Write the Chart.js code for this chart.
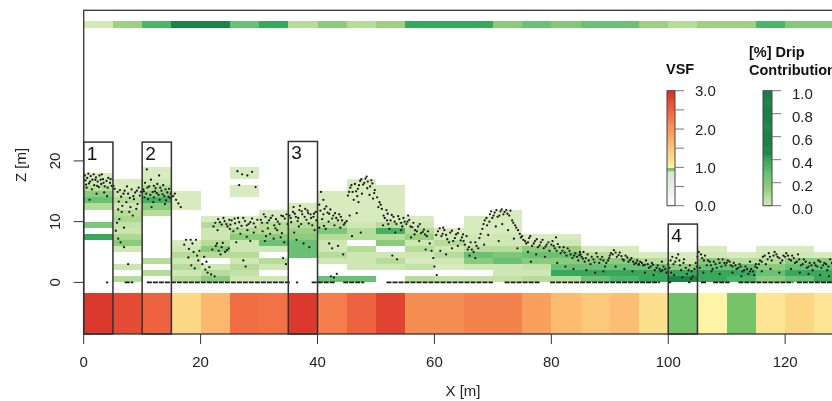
<!DOCTYPE html>
<html>
<head>
<meta charset="utf-8">
<script src="https://cdn.jsdelivr.net/npm/chart.js@4/dist/chart.umd.min.js"></script>
<style>
  html, body { margin: 0; padding: 0; background: #fff; overflow: hidden; }
  #wrap { width: 850px; height: 401px; }
</style>
</head>
<body>
<div id="wrap"><canvas id="chart" width="850" height="401"></canvas></div>
<script>
// 5 m bins along the transect
const binStarts = [0, 5, 10, 15, 20, 25, 30, 35, 40, 45, 50, 55, 60, 65, 70, 75, 80, 85, 90, 95, 100, 105, 110, 115, 120, 125];
const binWidth = 5;
const layerHeight = 1;

// VSF per bin (bottom strip)
const vsfValues = [2.9, 2.7, 2.5, 1.3, 1.65, 2.4, 2.35, 2.9, 2.25, 2.5, 2.8, 2.08, 2.08, 2.2, 2.2, 1.9, 1.62, 1.5, 1.6, 1.2, 0.96, 1.02, 0.98, 1.15, 1.33, 1.15];
// drip contribution per bin (top strip)
const dripShares = [0.01, 0.14, 0.33, 0.7, 0.7, 0.27, 0.4, 0.08, 0.18, 0.08, 0.14, 0.4, 0.4, 0.4, 0.18, 0.27, 0.2, 0.27, 0.27, 0.14, 0.08, 0.14, 0.14, 0.33, 0.2, 0.2];

// drip contribution per 1 m layer, from z = 0 upward (null = no voxel)
const voxelDrip = [
  [null, null, null, null, null, null, null, 0.4, null, 0.22, null, null, 0.08, 0.27, 0.18, 0.08, 0.02, 0],
  [0.08, null, 0.03, null, null, 0.02, 0.18, 0.1, 0.03, 0.05, 0.1, 0.08, 0.02, 0.08, 0.03, 0, 0],
  [null, 0.08, null, 0.08, null, null, null, null, null, null, null, 0.08, 0.18, 0.36, 0.18, 0.08, 0.02, 0, 0],
  [0.08, 0.02, 0.08, 0.02, 0.08, 0.02, 0, null, null, null, null, null, 0, 0, 0],
  [0.18, 0.08, 0.02, null, 0.08, 0.18, 0.08, 0.02, 0.02, 0.08, 0],
  [0.02, 0.05, 0.08, 0.02, 0.08, 0.02, 0.02, 0.18, 0.1, 0.02, 0, null, null, null, 0, 0, null, 0, 0],
  [0.02, null, 0.02, 0.08, null, 0.02, 0.27, 0.18, 0.08, 0.08, 0.02, 0],
  [null, null, null, null, 0.27, 0.27, 0.27, 0.18, 0.14, 0.08, 0.02, 0, 0],
  [0.27, null, null, 0.02, 0.08, 0.02, 0.02, 0.08, 0.22, 0.08, 0.02, 0, 0, 0, 0],
  [0.27, null, 0.02, 0.02, 0.02, 0.08, null, 0.08, 0.08, 0.02, 0, 0, 0, 0, 0, 0, 0],
  [null, null, 0.02, 0.08, 0.02, null, 0.18, 0.08, 0.36, 0.08, 0, 0, 0, 0, 0, 0],
  [0.08, null, 0.05, 0, 0.02, 0.08, 0.02, 0.14, 0.08, 0.02, 0],
  [0.05, null, 0, 0.02, 0.08, 0.02, 0.08, 0.02, 0],
  [0.05, null, 0.02, 0.18, 0.27, 0.08, 0.02, 0.02, 0, 0, 0],
  [0.05, 0.02, 0.02, 0.27, 0.22, 0.08, 0.02, 0.02, 0, 0, 0, 0],
  [0.08, 0.02, 0.05, 0.18, 0.27, 0.18, 0.02, 0],
  [0.08, 0.4, 0.27, 0.18, 0.27, 0.14, 0.02, 0],
  [0.27, 0.4, 0.27, 0.18, 0.08, 0],
  [0.33, 0.4, 0.27, 0.18, 0.02, 0],
  [0.4, 0.4, 0.27, 0.08, 0],
  [0.6, 0.4, 0.18, 0.02, 0],
  [0.4, 0.4, 0.27, 0.18, 0.02, 0],
  [0.33, 0.4, 0.27, 0.08, 0],
  [0.18, 0.27, 0.18, 0.08, 0.02, 0],
  [0.27, 0.4, 0.27, 0.18, 0.02, 0],
  [0.4, 0.4, 0.27, 0.18, 0]
];

// lidar returns [x, z]
const cloudPoints = [
  [0.3,16.8],[0.6,17.2],[0.9,16.3],[1.2,17.5],[1.5,16.9],[1.8,16.0],[2.1,17.3],[2.4,16.6],[2.7,17.6],[3.0,16.2],[3.3,17.0],[3.6,15.8],[3.9,16.7],[4.2,17.2],[4.5,16.4],[4.8,15.9],[0.5,15.6],[1.4,15.3],[2.6,15.7],[3.5,14.8],[1.0,13.6],[4.0,14.2],[2.0,16.9],[0.2,17.6],[3.1,17.8],
  [0.4,16.1],[1.1,16.6],[1.7,17.8],[2.3,15.9],[2.9,16.9],[3.4,16.4],[4.1,15.6],[4.6,17.0],[0.8,17.9],[2.2,14.6],
  [5.3,15.4],[5.8,14.9],[6.4,14.1],[7.0,15.1],[7.6,14.6],[8.2,15.3],[8.8,14.8],[9.4,15.6],[9.8,14.9],[6.0,13.3],[6.6,12.6],[7.3,13.2],[8.0,12.4],[8.6,13.7],[9.2,12.9],[7.8,11.6],[8.4,11.0],[6.1,10.4],[5.7,9.8],[6.9,9.0],[5.9,7.2],[6.3,6.6],[6.9,5.8],[7.6,3.0],[9.0,12.1],[5.5,8.5],
  [5.1,15.9],[6.2,15.2],[6.8,14.6],[7.4,15.8],[8.5,14.2],[9.1,15.1],[9.6,14.3],[7.9,13.9],[6.5,11.6],[5.9,12.0],
  [10.2,15.3],[10.7,14.6],[11.2,15.8],[11.8,14.9],[12.3,15.5],[12.8,14.4],[13.3,15.1],[13.8,14.2],[14.3,14.8],[14.8,13.9],[10.5,16.4],[11.5,16.9],[12.0,14.0],[12.6,16.2],[13.0,13.6],[13.6,16.0],[14.1,13.5],[14.6,15.4],[11.0,13.7],[10.8,18.6],[12.9,17.6],[11.6,12.4],[13.9,12.9],[12.2,15.0],[10.4,14.0],
  [10.3,15.0],[10.9,15.6],[11.4,14.4],[12.0,15.9],[12.5,14.7],[13.1,15.6],[13.5,14.5],[14.0,15.3],[14.5,14.1],[14.9,14.6],[11.9,13.2],
  [15.3,14.2],[15.8,13.6],[16.2,13.0],[17.5,7.0],[18.3,7.0],[19.2,7.0],[18.0,5.5],[18.8,5.0],[19.4,4.4],[17.9,4.1],[18.4,2.8],[19.0,2.3],[19.6,3.6],
  [15.6,14.6],[16.6,12.4],[17.2,6.2],[18.6,6.4],[19.8,5.2],
  [20.3,3.0],[20.8,2.1],[21.2,1.6],[21.8,1.3],[22.0,5.4],[22.6,6.0],[23.1,5.2],[23.6,5.8],[24.2,5.0],[24.8,5.6],[22.5,9.8],[23.0,10.4],[23.6,9.5],[24.1,10.1],[24.6,9.2],[25.0,8.8],[22.9,8.6],[23.4,4.6],[21.5,2.5],[22.4,1.0],
  [20.6,4.2],[21.0,3.4],[22.2,9.2],[23.3,9.9],[23.9,10.6],[24.4,9.6],[24.9,10.3],[22.8,6.4],[23.8,6.5],[24.5,5.3],
  [26.3,18.3],[27.1,17.8],[28.0,17.6],[28.8,18.2],[26.6,16.0],[29.4,15.7],[25.3,10.2],[25.9,9.7],[26.4,10.6],[27.0,9.3],[27.6,10.1],[28.2,9.6],[28.8,10.5],[29.4,9.1],[25.6,8.4],[26.8,8.0],[27.9,7.5],[29.1,8.2],[27.3,3.6],[27.7,2.6],[26.1,6.6],[28.5,6.8],
  [25.1,9.5],[25.8,10.5],[26.6,9.9],[27.3,10.6],[27.9,9.4],[28.5,9.9],[29.1,9.7],[29.7,10.3],[26.3,8.9],[28.0,8.6],
  [30.3,10.3],[30.8,11.2],[31.4,9.8],[32.0,10.6],[32.6,9.4],[33.2,10.0],[33.8,11.0],[34.4,10.5],[34.9,9.6],[30.6,8.4],[31.2,7.6],[31.9,8.0],[32.5,7.2],[33.1,8.6],[33.7,7.4],[34.3,6.6],[31.0,6.8],[34.1,4.0],[34.6,3.0],[32.8,8.9],
  [30.5,9.8],[31.1,10.8],[31.7,10.2],[32.3,11.0],[32.9,10.4],[33.5,9.6],[34.1,10.9],[34.7,11.2],[31.5,8.9],[33.9,8.1],
  [35.2,11.0],[35.8,11.6],[36.3,10.8],[36.9,11.9],[37.4,11.2],[37.9,12.1],[38.4,11.4],[38.9,10.6],[39.4,11.3],[39.8,10.2],[35.5,9.9],[36.6,10.1],[37.2,9.6],[38.1,10.3],[39.1,9.4],[36.0,8.2],[36.4,7.0],[37.6,6.4],[38.6,5.8],[39.5,8.6],[35.9,12.4],[37.0,12.6],
  [35.4,10.6],[36.1,11.3],[36.7,10.6],[37.3,11.7],[37.8,10.8],[38.3,11.8],[38.8,11.2],[39.3,10.8],[39.7,11.6],[36.8,9.2],[38.5,9.7],
  [40.3,12.8],[40.6,14.9],[41.0,13.6],[41.2,12.1],[41.7,11.5],[42.2,12.0],[42.7,11.0],[43.2,10.6],[43.7,11.2],[44.2,10.2],[44.7,9.8],[40.8,10.4],[41.9,10.0],[42.9,9.4],[43.9,9.0],[42.0,6.4],[42.5,5.6],[43.5,6.0],[44.4,4.6],[42.3,1.0],[42.8,0.8],[43.3,1.4],[40.3,9.0],[41.4,8.8],
  [40.5,11.8],[41.0,11.2],[41.5,12.5],[42.0,11.3],[42.5,10.5],[43.0,11.4],[43.5,10.2],[44.0,10.8],[44.5,9.5],[45.0,10.1],[41.1,9.3],
  [45.2,14.3],[45.6,15.6],[46.0,14.9],[46.4,16.2],[46.9,15.4],[47.3,16.7],[47.8,16.1],[48.2,17.1],[48.6,16.6],[49.0,15.8],[49.4,16.3],[49.8,15.2],[46.2,13.6],[47.0,13.2],[48.9,14.4],[49.5,13.8],[45.5,11.0],[46.7,11.4],[45.9,7.6],[47.4,8.2],[48.4,17.4],[47.6,14.6],
  [45.4,14.9],[45.8,16.0],[46.6,15.0],[47.1,16.0],[47.5,17.0],[48.0,16.4],[48.5,15.5],[49.2,16.8],[49.7,14.7],[46.8,14.2],
  [50.2,14.0],[50.6,13.2],[51.0,12.1],[51.5,10.6],[52.0,11.3],[52.5,10.2],[53.0,10.8],[53.5,9.6],[54.0,10.4],[54.5,9.2],[54.9,10.0],[51.2,9.4],[52.3,8.8],[53.3,8.2],[54.3,8.6],[52.8,4.4],[53.6,3.8],[50.8,12.8],[51.8,11.9],
  [50.4,12.4],[51.3,11.0],[51.9,10.2],[52.7,11.1],[53.2,10.0],[53.8,10.9],[54.3,9.8],[54.7,10.6],[52.1,9.6],
  [55.2,9.6],[55.7,10.3],[56.2,9.1],[56.7,8.6],[57.2,9.2],[57.7,8.1],[58.2,8.7],[58.7,7.6],[59.2,6.4],[59.5,5.2],[59.8,4.0],[60.0,2.6],[60.4,1.2],[56.0,7.4],[57.4,6.8],[58.5,5.4],[55.5,11.0],
  [55.4,10.0],[55.9,9.2],[56.4,9.8],[57.0,8.4],[57.5,9.6],[58.0,8.3],[58.4,7.9],[58.9,8.4],[56.6,7.9],
  [60.6,8.4],[61.2,7.6],[61.7,8.6],[62.2,7.1],[62.7,8.2],[63.2,6.8],[63.7,7.9],[64.2,8.8],[64.7,7.4],[61.0,5.2],[62.0,4.6],[63.0,5.6],[64.0,6.0],[61.5,9.0],
  [60.3,7.8],[60.9,8.9],[61.4,8.0],[62.0,7.8],[62.5,6.6],[63.0,8.5],[63.5,7.3],[64.0,8.1],[64.5,6.9],[64.9,7.9],
  [65.2,6.2],[65.7,5.4],[66.2,6.6],[66.7,5.0],[67.2,6.0],[67.7,7.3],[68.2,8.8],[68.6,10.2],[69.0,9.4],[69.5,11.2],[69.9,10.6],[66.0,4.4],[67.0,4.0],[68.5,6.2],[65.5,7.6],[69.2,7.8],
  [65.0,6.8],[65.9,5.8],[66.4,5.4],[67.0,6.6],[67.5,5.6],[67.9,8.0],[68.4,9.6],[68.9,10.6],[69.4,10.0],[69.7,11.7],
  [70.3,11.5],[70.8,10.8],[71.3,11.7],[71.8,11.2],[72.3,11.9],[72.8,11.0],[73.3,10.2],[73.8,9.4],[74.3,8.6],[74.8,7.4],[70.5,9.2],[71.6,9.6],[72.6,8.6],[73.6,7.2],[74.2,5.6],[71.0,6.8],
  [70.1,11.0],[70.6,11.9],[71.1,11.0],[71.5,12.0],[72.0,11.6],[72.5,11.3],[73.0,11.8],[73.5,9.8],[74.0,9.0],[74.6,8.0],
  [75.2,7.0],[75.7,6.4],[76.2,7.3],[76.7,6.0],[77.2,6.8],[77.7,5.8],[78.2,6.6],[78.7,5.6],[79.2,6.2],[79.7,5.2],[76.0,5.0],[77.4,4.6],[78.9,4.2],[76.5,3.4],
  [75.0,7.6],[75.5,6.8],[76.0,6.6],[76.4,7.6],[77.0,6.4],[77.5,7.1],[78.0,6.1],[78.5,7.0],[79.0,5.9],[79.5,6.6],
  [80.2,6.8],[80.6,5.6],[81.1,6.3],[81.6,4.8],[82.1,5.8],[82.6,4.4],[83.1,5.2],[83.6,4.0],[84.1,4.8],[84.6,3.6],[81.0,3.2],[82.4,2.6],[83.8,2.2],[80.8,7.4],[84.9,5.0],
  [80.0,6.2],[80.4,6.0],[80.9,5.2],[81.4,5.8],[81.9,5.2],[82.3,4.9],[82.8,5.6],[83.3,4.6],[83.9,4.4],[84.4,4.2],[84.8,4.5],
  [85.2,4.2],[85.7,3.4],[86.2,4.6],[86.7,3.0],[87.2,3.8],[87.7,4.8],[88.2,3.2],[88.7,4.2],[89.2,2.6],[89.7,3.6],[86.0,2.0],[87.5,1.6],[88.9,1.8],[85.5,5.0],
  [85.0,4.6],[85.4,3.9],[85.9,4.0],[86.4,3.6],[86.9,4.2],[87.4,3.3],[87.9,4.2],[88.4,3.8],[88.9,3.6],[89.4,3.2],[89.9,4.0],
  [90.2,4.8],[90.7,5.3],[91.2,4.2],[91.7,4.9],[92.2,3.8],[92.7,4.4],[93.2,3.4],[93.7,4.0],[94.2,3.0],[94.7,3.6],[91.0,2.6],[92.5,2.2],[93.9,1.8],
  [90.0,4.4],[90.5,4.6],[91.0,4.9],[91.5,4.5],[92.0,4.3],[92.4,3.6],[93.0,4.1],[93.5,3.7],[94.0,3.4],[94.5,3.2],[94.9,2.9],
  [95.2,3.4],[95.7,2.8],[96.2,3.6],[96.7,2.4],[97.2,3.2],[97.7,2.0],[98.2,2.8],[98.7,1.8],[99.2,2.6],[99.7,1.6],[96.0,1.6],[97.5,1.2],[98.9,3.4],
  [95.0,3.0],[95.5,3.2],[96.0,2.9],[96.5,3.0],[97.0,2.6],[97.4,2.9],[98.0,2.4],[98.5,2.2],[99.0,2.0],[99.5,2.2],
  [100.2,2.4],[100.7,4.2],[101.2,3.4],[101.7,4.6],[102.2,2.0],[102.7,3.8],[103.2,1.4],[103.7,2.8],[104.2,1.0],[104.7,3.2],[101.0,1.2],[102.4,0.8],[103.9,0.6],[100.5,1.6],[102.0,2.8],[104.5,2.2],
  [100.0,3.0],[100.4,3.6],[100.9,3.0],[101.4,4.0],[101.9,3.6],[102.6,3.2],[103.0,2.4],[103.5,2.0],[104.0,1.8],[104.9,2.6],
  [105.2,5.0],[105.6,4.6],[106.1,3.6],[106.6,2.8],[107.1,3.4],[107.6,2.2],[108.1,3.0],[108.6,3.8],[109.1,2.6],[109.6,3.2],[106.0,1.6],[107.4,1.8],[108.8,1.4],[105.4,2.4],
  [105.0,4.2],[105.8,4.0],[106.3,4.4],[106.8,3.6],[107.3,2.8],[107.8,3.4],[108.3,2.4],[108.8,3.2],[109.3,3.8],[109.8,2.8],
  [110.2,3.6],[110.7,2.8],[111.2,3.2],[111.7,2.2],[112.2,3.0],[112.7,1.8],[113.2,2.6],[113.7,1.4],[114.2,2.2],[114.7,1.2],[111.0,1.6],[112.5,1.0],[114.0,3.4],
  [110.0,3.2],[110.5,3.4],[111.0,2.6],[111.5,2.8],[112.0,2.4],[112.4,2.6],[113.0,2.0],[113.5,2.2],[114.0,1.8],[114.5,1.8],[114.9,2.6],
  [115.2,2.4],[115.7,3.6],[116.2,4.2],[116.7,3.0],[117.2,4.8],[117.7,3.6],[118.2,5.0],[118.7,4.2],[119.2,3.2],[119.7,4.4],[116.0,1.8],[117.5,2.2],[119.0,1.6],
  [115.0,3.0],[115.5,3.0],[116.0,3.4],[116.5,4.4],[117.0,3.8],[117.4,4.2],[118.0,4.4],[118.5,4.6],[119.0,4.0],[119.5,3.6],
  [120.2,4.8],[120.7,3.8],[121.2,4.4],[121.7,3.2],[122.2,4.6],[122.7,2.8],[123.2,3.8],[123.7,2.4],[124.2,3.2],[124.7,2.0],[121.0,2.2],[122.5,1.6],[124.0,1.4],
  [120.0,4.2],[120.5,4.4],[121.0,3.6],[121.5,4.0],[122.0,3.4],[122.4,3.8],[123.0,3.0],[123.5,3.4],[124.0,2.6],[124.5,2.8],
  [125.2,2.8],[125.7,3.6],[126.2,2.4],[126.7,3.2],[127.2,2.0],[127.7,3.8],[128.2,2.6],[128.7,1.6],[129.2,2.4],[126.0,1.2],[127.5,1.0],
  [125.0,3.2],[125.5,2.6],[126.0,3.4],[126.5,2.8],[127.0,3.0],[127.4,2.6],[128.0,3.2],[128.5,2.8],[129.0,2.0],[129.5,3.0]
];

// dense ground returns at z = 0, as [from, to] stretches of x
const groundSegments = [[3.8, 4.2], [7, 8.5], [10.8, 35.3], [36.3, 36.7], [39, 43], [44.4, 48], [51.8, 70], [72, 78], [79.8, 98.6], [100.1, 100.5], [103.4, 103.8], [105.6, 106.5], [107.7, 110.5], [112, 121.4], [122, 128.5]];

// highlighted sections
const boxRanges = [[0, 5], [10, 15], [35, 40], [100, 105]];
const boxTops = [23.1, 23.1, 23.2, 9.6];
const boxLabels = ['1', '2', '3', '4'];

const xTicks = [0, 20, 40, 60, 80, 100, 120];
const yTicks = [0, 10, 20];
const vsfTicks = [0, 0.5, 1, 1.5, 2, 2.5, 3];
const vsfTickLabels = ['0.0', '', '1.0', '', '2.0', '', '3.0'];
const dripTicks = [0, 0.2, 0.4, 0.6, 0.8, 1.0];
const dripTickLabels = ['0.0', '0.2', '0.4', '0.6', '0.8', '1.0'];

const vsfStops = [[0, '#ffffff'], [0.9, '#d3e6d1'], [0.94, '#6cbf6c'], [1.0, '#7cc666'], [1.0001, '#fff5a8'], [1.2, '#fce08e'], [1.5, '#fcc87a'], [1.8, '#fbaa62'], [2.1, '#f68c52'], [2.4, '#f16d44'], [2.7, '#e44c35'], [3.0, '#d7302a']];
const dripStops = [[0, '#d7ebbf'], [0.08, '#b5dc98'], [0.14, '#9dd081'], [0.18, '#8bcb7c'], [0.27, '#6ac176'], [0.33, '#4db56a'], [0.4, '#3aa85c'], [0.44, '#2b9652'], [0.46, '#1e8449'], [1, '#1a7f45']];

const hexRgb = (h) => [1, 3, 5].map((i) => parseInt(h.slice(i, i + 2), 16));
const ramp = (stops, v) => {
    if (v <= stops[0][0]) return stops[0][1];
    for (let i = 1; i < stops.length; i++) {
        if (v <= stops[i][0]) {
            const [v0, c0] = stops[i - 1];
            const [v1, c1] = stops[i];
            const t = (v - v0) / (v1 - v0);
            const a = hexRgb(c0), b = hexRgb(c1);
            return `rgb(${a.map((c, k) => Math.round(c + (b[k] - c) * t)).join(',')})`;
        }
    }
    return stops[stops.length - 1][1];
};
const vsfColor = (v) => ramp(vsfStops, v);
const dripColor = (v) => ramp(dripStops, v);

const FONT = '"Liberation Sans", Arial, sans-serif';
const INK = '#333';

const fillBand = (ctx, xs, ys, x0, x1, z0, z1, color) => {
    const l = Math.round(xs.getPixelForValue(x0));
    const r = Math.round(xs.getPixelForValue(x1));
    const t = Math.round(ys.getPixelForValue(z1));
    const b = Math.round(ys.getPixelForValue(z0));
    ctx.fillStyle = color;
    ctx.fillRect(l, t, r - l, b - t);
};

const transectPlugin = {
    id: 'transect',
    beforeDatasetsDraw(chart) {
        const { ctx, chartArea: a } = chart;
        const xs = chart.scales.x, ys = chart.scales.y;
        ctx.save();
        ctx.beginPath();
        ctx.rect(a.left, a.top, a.right - a.left, a.bottom - a.top);
        ctx.clip();
        voxelDrip.forEach((column, i) => {
            column.forEach((v, row) => {
                if (v === null) return;
                fillBand(ctx, xs, ys, binStarts[i], binStarts[i] + binWidth, row * layerHeight, (row + 1) * layerHeight, dripColor(v));
            });
        });
        binStarts.forEach((x0, i) => {
            fillBand(ctx, xs, ys, x0, x0 + binWidth, -8.6, -1.8, vsfColor(vsfValues[i]));
            fillBand(ctx, xs, ys, x0, x0 + binWidth, 41.9, 43.0, dripColor(dripShares[i]));
        });
        ctx.restore();
    },
    afterDatasetsDraw(chart) {
        const { ctx, chartArea: a } = chart;
        const xs = chart.scales.x, ys = chart.scales.y;
        ctx.save();

        // numbered sections
        ctx.strokeStyle = INK;
        ctx.lineWidth = 1.5;
        ctx.fillStyle = '#111';
        ctx.font = `19px ${FONT}`;
        ctx.textAlign = 'left';
        ctx.textBaseline = 'top';
        boxRanges.forEach(([x0, x1], i) => {
            const l = xs.getPixelForValue(x0), r = xs.getPixelForValue(x1);
            const t = ys.getPixelForValue(boxTops[i]);
            ctx.strokeRect(l, t, r - l, a.bottom - t);
            ctx.fillText(boxLabels[i], l + 3, t + 3);
        });

        // frame
        ctx.lineWidth = 1.3;
        ctx.strokeRect(a.left, a.top, a.right - a.left, a.bottom - a.top);

        // x axis
        ctx.font = `15px ${FONT}`;
        ctx.fillStyle = '#222';
        ctx.textAlign = 'center';
        ctx.textBaseline = 'middle';
        ctx.lineWidth = 1;
        xTicks.forEach((v) => {
            const x = xs.getPixelForValue(v);
            ctx.beginPath();
            ctx.moveTo(x, a.bottom);
            ctx.lineTo(x, a.bottom + 10);
            ctx.stroke();
            ctx.fillText(String(v), x, a.bottom + 29);
        });
        ctx.fillText('X [m]', 463, 392);

        // y axis (labels parallel to the axis)
        yTicks.forEach((v) => {
            const y = ys.getPixelForValue(v);
            ctx.beginPath();
            ctx.moveTo(a.left, y);
            ctx.lineTo(a.left - 10, y);
            ctx.stroke();
            ctx.save();
            ctx.translate(56, y);
            ctx.rotate(-Math.PI / 2);
            ctx.fillText(String(v), 0, 0);
            ctx.restore();
        });
        ctx.save();
        ctx.translate(22, 165);
        ctx.rotate(-Math.PI / 2);
        ctx.fillText('Z [m]', 0, 0);
        ctx.restore();

        // colour bars
        const drawBar = (left, width, top, bottom, max, colorFn, ticks, labels, labelDy) => {
            const steps = 120;
            for (let k = 0; k < steps; k++) {
                const v = (k + 0.5) / steps * max;
                const y0 = bottom - (k + 1) / steps * (bottom - top);
                ctx.fillStyle = colorFn(v);
                ctx.fillRect(left, y0, width, (bottom - top) / steps + 0.6);
            }
            ctx.strokeStyle = '#444';
            ctx.lineWidth = 1;
            ctx.strokeRect(left, top, width, bottom - top);
            ctx.strokeStyle = '#777';
            ctx.fillStyle = '#222';
            ctx.font = `15px ${FONT}`;
            ctx.textAlign = 'left';
            ctx.textBaseline = 'middle';
            ticks.forEach((v, i) => {
                const y = bottom - v / max * (bottom - top);
                ctx.beginPath();
                ctx.moveTo(left + width, y);
                ctx.lineTo(left + width + 9, y);
                ctx.stroke();
                if (labels[i]) ctx.fillText(labels[i], left + width + 20, y + labelDy);
            });
        };
        drawBar(667, 8, 90.7, 205.7, 3, vsfColor, vsfTicks, vsfTickLabels, 1.5);
        drawBar(763, 9, 90.7, 205.7, 1, dripColor, dripTicks, dripTickLabels, 4);

        ctx.fillStyle = '#111';
        ctx.font = `bold 14.5px ${FONT}`;
        ctx.textAlign = 'left';
        ctx.textBaseline = 'middle';
        ctx.fillText('VSF', 666, 70);
        ctx.fillText('[%] Drip', 749, 53);
        ctx.fillText('Contribution', 749, 71);

        ctx.restore();
    }
};

const groundData = [];
groundSegments.forEach(([x0, x1]) => {
    groundData.push({ x: x0, y: 0 }, { x: x1, y: 0 }, { x: x1, y: null });
});

new Chart(document.getElementById('chart'), {
    type: 'scatter',
    data: {
        datasets: [
            {
                label: 'Points',
                data: cloudPoints.map(([x, z]) => ({ x, y: z })),
                pointRadius: 1.15,
                pointBorderWidth: 0,
                pointBackgroundColor: '#1a1a1a',
            },
            {
                type: 'line',
                label: 'Ground',
                data: groundData,
                borderColor: '#1a1a1a',
                borderWidth: 1.6,
                borderDash: [5, 1],
                pointRadius: 0,
                spanGaps: false,
            },
        ],
    },
    options: {
        responsive: false,
        animation: false,
        layout: { padding: { left: 83.7, top: 10.3, right: 6.4, bottom: 67 } },
        scales: {
            x: { type: 'linear', min: 0, max: 130, display: false },
            y: { type: 'linear', min: -8.5, max: 44.8, display: false },
        },
        plugins: { legend: { display: false }, tooltip: { enabled: false } },
    },
    plugins: [transectPlugin],
});
</script>
</body>
</html>
